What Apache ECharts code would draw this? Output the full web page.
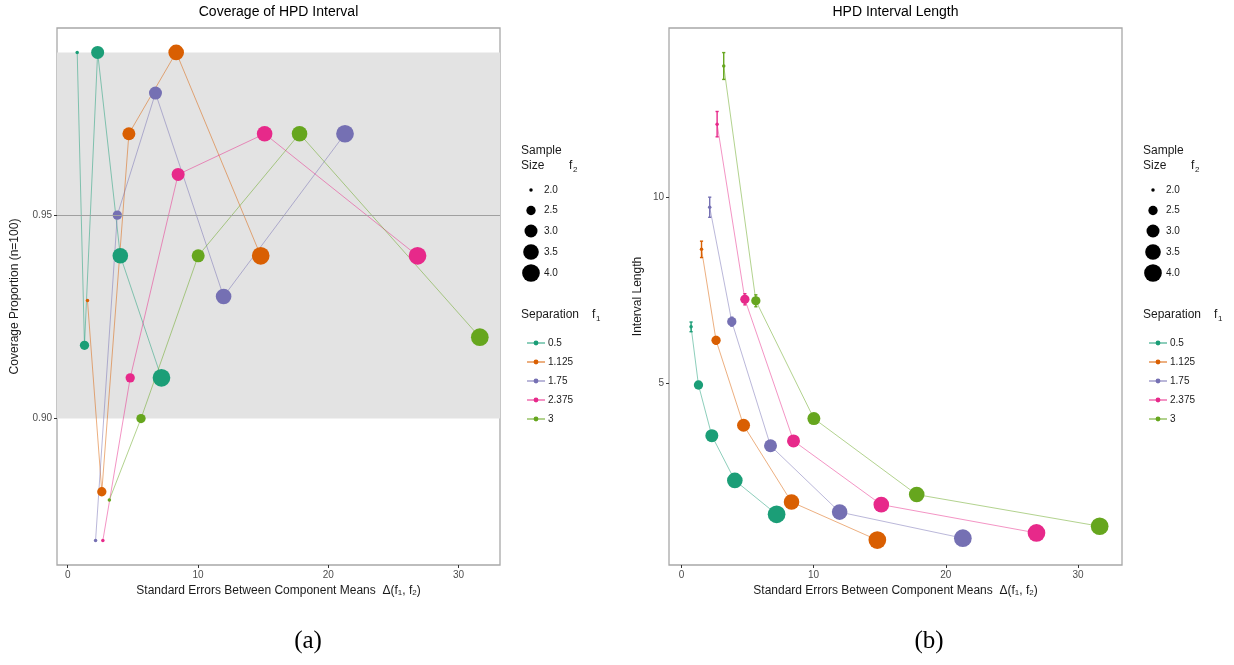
<!DOCTYPE html>
<html><head><meta charset="utf-8">
<script src="https://cdn.jsdelivr.net/npm/echarts@6/dist/echarts.min.js"></script>
<style>html,body{margin:0;padding:0;background:#fff}#c{width:1234px;height:665px}</style>
</head><body><div id="c"></div>
<script>
// ---- data ----
const separations = ['0.5', '1.125', '1.75', '2.375', '3'];
const sampleSizes = [2.0, 2.5, 3.0, 3.5, 4.0];
const xTicks = [0, 10, 20, 30];
const coverageTicks = [0.90, 0.95];
const lengthTicks = [5, 10];
const coverageBand = [0.90, 0.99];
const coverageTarget = 0.95;
const delta = [
  [0.73, 1.29, 2.30, 4.04, 7.20],
  [1.52, 2.62, 4.70, 8.33, 14.82],
  [2.14, 3.81, 6.74, 11.97, 21.29],
  [2.70, 4.80, 8.48, 15.12, 26.86],
  [3.20, 5.63, 10.02, 17.80, 31.64]
];
const coverage = [
  [0.99, 0.918, 0.99, 0.94, 0.91],
  [0.929, 0.882, 0.97, 0.99, 0.94],
  [0.87, 0.95, 0.98, 0.93, 0.97],
  [0.87, 0.91, 0.96, 0.97, 0.94],
  [0.88, 0.90, 0.94, 0.97, 0.92]
];
const intervalLength = [
  [6.51, 4.95, 3.59, 2.39, 1.48],
  [8.59, 6.15, 3.87, 1.81, 0.79],
  [9.72, 6.65, 3.32, 1.54, 0.84],
  [11.95, 7.25, 3.45, 1.74, 0.98],
  [13.51, 7.21, 4.05, 2.01, 1.16]
];
const lengthErr = [
  [0.13, 0.06, 0.04, 0.03, 0.02],
  [0.22, 0.10, 0.05, 0.03, 0.02],
  [0.27, 0.12, 0.06, 0.03, 0.02],
  [0.34, 0.15, 0.07, 0.03, 0.02],
  [0.36, 0.16, 0.07, 0.03, 0.02]
];

// ---- styles ----
const colors = ['#1B9E77', '#D95F02', '#7570B3', '#E7298A', '#66A61E'];
const sizePx = [3.5, 9.3, 13, 15.6, 17.7];
const capHalf = 0.12;
const FONT = 'Liberation Sans';
function sizeOf(f2) { return sizePx[sampleSizes.indexOf(f2)]; }

const chart = echarts.init(document.getElementById('c'), null, {renderer: 'canvas'});

const grids = [
  {left: 57, right: 734, top: 28, bottom: 100},
  {left: 669, right: 112, top: 28, bottom: 100}
];
grids.forEach(g => Object.assign(g, {show: true, borderColor: '#a8a8a8', borderWidth: 1.3, backgroundColor: '#fff'}));

const xName = 'Standard Errors Between Component Means  Δ(f{s|1}, f{s|2})';
const nameRich = {s: {fontSize: 8, verticalAlign: 'bottom', fontFamily: FONT, color: '#1a1a1a'}};
function xAxisDef(idx, min, max) {
  return {
    type: 'value', gridIndex: idx, min: min, max: max,
    axisLine: {show: false, onZero: false},
    splitLine: {show: false},
    axisTick: {show: true, length: 3, customValues: xTicks, lineStyle: {color: '#333', width: 1}},
    axisLabel: {customValues: xTicks, color: '#4d4d4d', fontSize: 10, margin: 5, fontFamily: FONT},
    name: xName, nameLocation: 'middle', nameGap: 20,
    nameTextStyle: {fontSize: 12, color: '#1a1a1a', fontFamily: FONT, rich: nameRich}
  };
}
function yAxisDef(idx, min, max, ticks, fmt, name, gap) {
  return {
    type: 'value', gridIndex: idx, min: min, max: max,
    axisLine: {show: false, onZero: false},
    splitLine: {show: false},
    axisTick: {show: true, length: 3, customValues: ticks, lineStyle: {color: '#333', width: 1}},
    axisLabel: {customValues: ticks, color: '#4d4d4d', fontSize: 10, margin: 5, fontFamily: FONT, formatter: fmt},
    name: name, nameLocation: 'middle', nameGap: gap,
    nameTextStyle: {fontSize: 12, color: '#1a1a1a', fontFamily: FONT}
  };
}

const series = [];
// background band and target line (left panel)
series.push({
  type: 'line', xAxisIndex: 0, yAxisIndex: 0, data: [], silent: true, z: 1,
  markArea: {silent: true, itemStyle: {color: '#e3e3e3'}, data: [[{yAxis: coverageBand[0]}, {yAxis: coverageBand[1]}]]}
});
series.push({
  type: 'line', xAxisIndex: 0, yAxisIndex: 0, data: [], silent: true, z: 1,
  markLine: {silent: true, symbol: 'none', label: {show: false}, lineStyle: {color: '#a0a0a0', width: 1.2, type: 'solid'},
    data: [{yAxis: coverageTarget}]}
});

separations.forEach((name, i) => {
  const c = colors[i];
  const leftData = delta[i].map((d, j) => [d, coverage[i][j], sampleSizes[j]]);
  const rightData = delta[i].map((d, j) => [d, intervalLength[i][j], sampleSizes[j]]);
  const errData = delta[i].map((d, j) => [d, intervalLength[i][j] - lengthErr[i][j], intervalLength[i][j] + lengthErr[i][j]]);
  series.push({
    name: name, type: 'line', xAxisIndex: 0, yAxisIndex: 0, data: leftData,
    showSymbol: false, symbol: 'circle', symbolSize: 7, z: 2, silent: true,
    lineStyle: {color: c, opacity: 0.5, width: 1}, itemStyle: {color: c}
  });
  series.push({
    name: name, type: 'line', xAxisIndex: 1, yAxisIndex: 1, data: rightData,
    showSymbol: false, symbol: 'circle', symbolSize: 7, z: 2, silent: true,
    lineStyle: {color: c, opacity: 0.5, width: 1}, itemStyle: {color: c}
  });
  series.push({
    name: name, type: 'custom', xAxisIndex: 1, yAxisIndex: 1, data: errData, z: 3, silent: true,
    encode: {x: 0, y: [1, 2]},
    renderItem: function (params, api) {
      const x = api.value(0), lo = api.value(1), hi = api.value(2);
      const a = api.coord([x, lo]), b = api.coord([x, hi]);
      const l1 = api.coord([x - capHalf, lo]), r1 = api.coord([x + capHalf, lo]);
      const l2 = api.coord([x - capHalf, hi]), r2 = api.coord([x + capHalf, hi]);
      const st = {stroke: c, lineWidth: 1.4};
      return {type: 'group', children: [
        {type: 'line', shape: {x1: a[0], y1: a[1], x2: b[0], y2: b[1]}, style: st},
        {type: 'line', shape: {x1: l1[0], y1: l1[1], x2: r1[0], y2: r1[1]}, style: st},
        {type: 'line', shape: {x1: l2[0], y1: l2[1], x2: r2[0], y2: r2[1]}, style: st}
      ]};
    }
  });
});
separations.forEach((name, i) => {
  const c = colors[i];
  const leftData = delta[i].map((d, j) => [d, coverage[i][j], sampleSizes[j]]);
  const rightData = delta[i].map((d, j) => [d, intervalLength[i][j], sampleSizes[j]]);
  [[0, leftData], [1, rightData]].forEach(([ax, dat]) => {
    series.push({
      name: name, type: 'scatter', xAxisIndex: ax, yAxisIndex: ax, data: dat, z: 4,
      symbol: 'circle', symbolSize: v => sizeOf(v[2]),
      itemStyle: {color: c, opacity: 1}
    });
  });
});

// ---- graphic: titles, size legends, captions ----
const graphics = [];
function txt(x, y, text, opts) {
  graphics.push({type: 'text', x: x, y: y, silent: true,
    style: Object.assign({text: text, fontFamily: FONT, fontSize: 12, fill: '#1a1a1a', textAlign: 'left', textVerticalAlign: 'middle'}, opts || {})});
}
txt(278.5, 12, 'Coverage of HPD Interval', {fontSize: 14, textAlign: 'center', fill: '#000'});
txt(895.5, 12, 'HPD Interval Length', {fontSize: 14, textAlign: 'center', fill: '#000'});
txt(308, 641, '(a)', {fontFamily: 'Liberation Serif', fontSize: 25, textAlign: 'center', fill: '#000'});
txt(929, 641, '(b)', {fontFamily: 'Liberation Serif', fontSize: 25, textAlign: 'center', fill: '#000'});

const legendYs = [190, 210.5, 231, 252, 273];
[[521, 531, 544, 569, 592], [1143, 1153, 1166, 1191, 1214]].forEach(([tx, cx, lx, fx, sfx]) => {
  txt(tx, 151, 'Sample');
  txt(tx, 166, 'Size');
  txt(fx, 166, 'f');
  txt(fx + 4, 170, '2', {fontSize: 8});
  sampleSizes.forEach((s, j) => {
    graphics.push({type: 'circle', silent: true, shape: {cx: cx, cy: legendYs[j], r: sizePx[j] / 2}, style: {fill: '#000'}});
    txt(lx, legendYs[j], s.toFixed(1), {fontSize: 10});
  });
  txt(tx, 315, 'Separation');
  txt(sfx, 315, 'f');
  txt(sfx + 4, 319, '1', {fontSize: 8});
});

function legendDef(left) {
  return {
    orient: 'vertical', left: left, top: 333, itemWidth: 18, itemHeight: 6, itemGap: 9,
    data: separations, selectedMode: false,
    textStyle: {fontSize: 10, color: '#1a1a1a', fontFamily: FONT, padding: [0, 0, 0, -2]}
  };
}

chart.setOption({
  animation: false,
  textStyle: {fontFamily: FONT},
  grid: grids,
  xAxis: [xAxisDef(0, -0.82, 33.19), xAxisDef(1, -0.94, 33.33)],
  yAxis: [
    yAxisDef(0, 0.864, 0.996, coverageTicks, v => v.toFixed(2), 'Coverage Proportion (n=100)', 36),
    yAxisDef(1, 0.12, 14.53, lengthTicks, v => String(v), 'Interval Length', 25)
  ],
  legend: [legendDef(521), legendDef(1143)],
  series: series,
  graphic: graphics
});
</script>
</body></html>
